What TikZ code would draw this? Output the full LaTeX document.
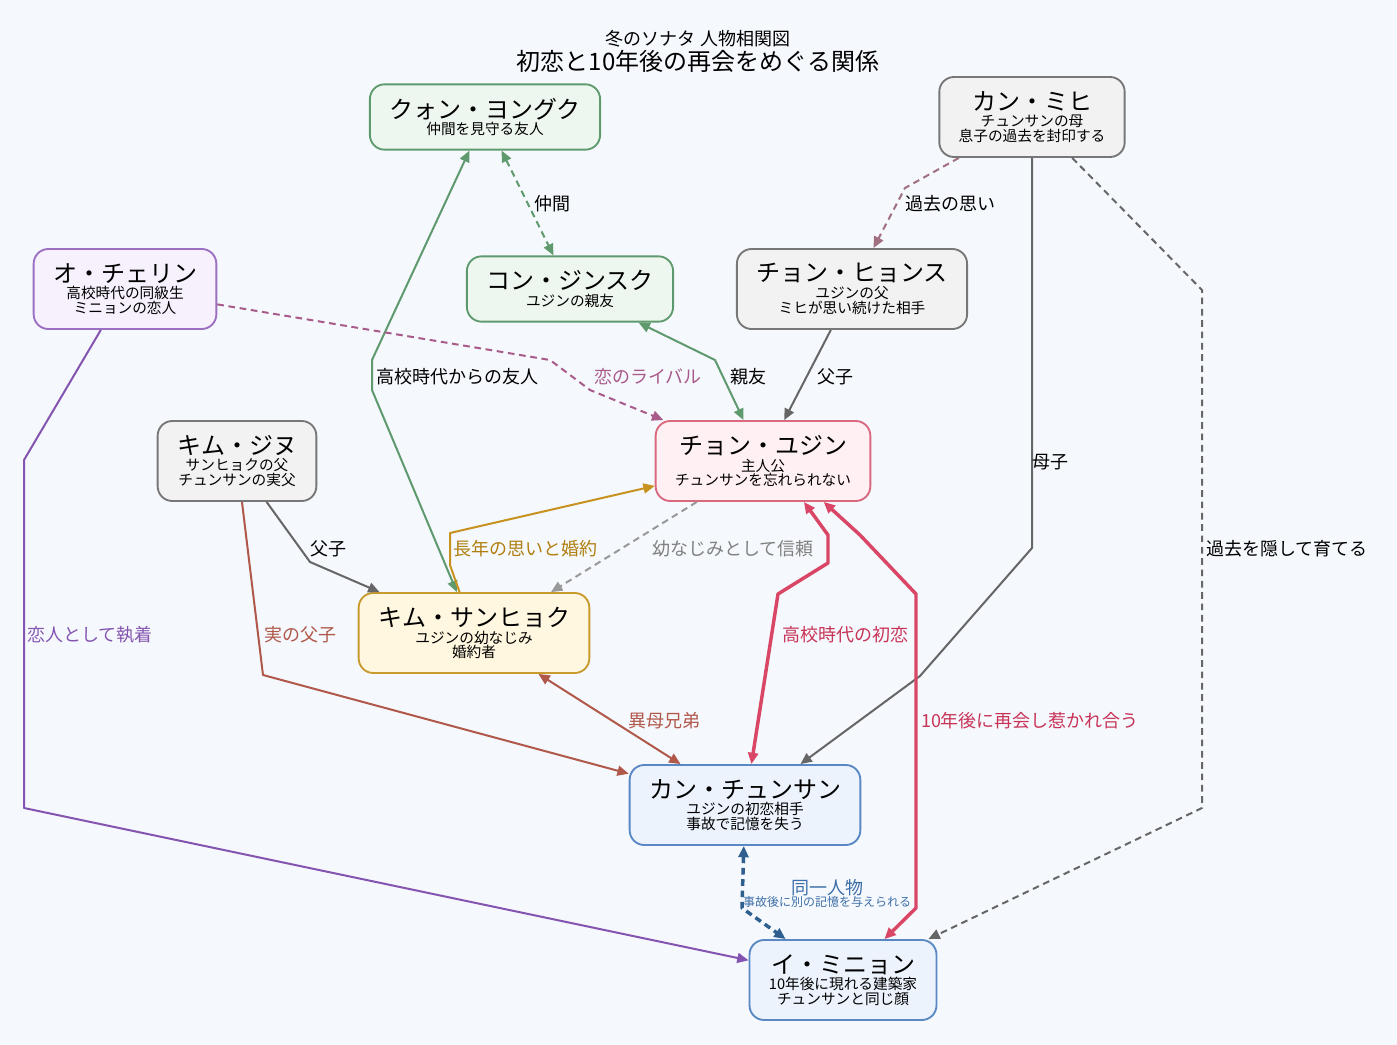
\documentclass[tikz,border=0pt]{standalone}
\usepackage{fontspec}
\setmainfont{Noto Sans CJK JP}
\usetikzlibrary{arrows.meta}

\definecolor{bgcol}{HTML}{F5F8FC}
\definecolor{grnline}{HTML}{5E9A6E}
\definecolor{grnfill}{HTML}{EEF7EF}
\definecolor{gryline}{HTML}{777777}
\definecolor{gryfill}{HTML}{F2F2F2}
\definecolor{gryedge}{HTML}{666666}
\definecolor{prpline}{HTML}{9B70C2}
\definecolor{prpfill}{HTML}{F7F0FD}
\definecolor{prpedge}{HTML}{8455B0}
\definecolor{pnkline}{HTML}{D9697F}
\definecolor{pnkfill}{HTML}{FFF0F3}
\definecolor{gldline}{HTML}{C99A2E}
\definecolor{gldfill}{HTML}{FFF7DF}
\definecolor{gldedge}{HTML}{C8921E}
\definecolor{gldtext}{HTML}{B07F10}
\definecolor{bluline}{HTML}{5A88C4}
\definecolor{blufill}{HTML}{EDF3FD}
\definecolor{bluedge}{HTML}{2E5F8F}
\definecolor{blutext}{HTML}{3D6FA8}
\definecolor{rededge}{HTML}{D94666}
\definecolor{redtext}{HTML}{C83458}
\definecolor{brnedge}{HTML}{B0584A}
\definecolor{mauedge}{HTML}{A07080}
\definecolor{rivedge}{HTML}{A85A8A}

\newcommand{\pname}[1]{{\fontsize{18}{18}\selectfont #1}}

\tikzset{
  person/.style={draw, rounded corners=11pt, line width=1.4pt, align=center,
    inner xsep=14.5pt, inner ysep=3pt, minimum height=49pt,
    font=\fontsize{11}{11}\selectfont},
  tallbox/.style={minimum height=60pt},
  greenbox/.style={draw=grnline, fill=grnfill},
  graybox/.style={draw=gryline, fill=gryfill},
  purplebox/.style={draw=prpline, fill=prpfill},
  pinkbox/.style={draw=pnkline, fill=pnkfill},
  goldbox/.style={draw=gldline, fill=gldfill},
  bluebox/.style={draw=bluline, fill=blufill},
  link/.style={line width=1.5pt, line join=round},
  thicklink/.style={line width=2.6pt, line join=round},
  onearrow/.style={-{Triangle[length=8.5pt,width=7.5pt]}},
  twoarrow/.style={{Triangle[length=8.5pt,width=7.5pt]}-{Triangle[length=8.5pt,width=7.5pt]}},
  dashlink/.style={dash pattern=on 5pt off 3.5pt},
  lbl/.style={font=\fontsize{13.5}{13.5}\selectfont, inner sep=1pt},
}

\begin{document}
\begin{tikzpicture}[x=0.75pt, y=-0.75pt]
\useasboundingbox[fill=bgcol] (0,0) rectangle (1397,1045);

% title
\node (title1) at (698,39) {\fontsize{13.5}{13.5}\selectfont 冬のソナタ 人物相関図};
\node (title2) at (698,61) {\fontsize{18}{18}\selectfont 初恋と10年後の再会をめぐる関係};

% people
\node (kwon)[person, greenbox] at (485,117) {\pname{クォン・ヨングク}\\[1.5pt]仲間を見守る友人};
\node (mihee)[person, tallbox, graybox] at (1032,117) {\pname{カン・ミヒ}\\[1.5pt]チュンサンの母\\息子の過去を封印する};
\node (cherin)[person, tallbox, purplebox] at (125,289) {\pname{オ・チェリン}\\[1.5pt]高校時代の同級生\\ミニョンの恋人};
\node (kong)[person, greenbox] at (570,289) {\pname{コン・ジンスク}\\[1.5pt]ユジンの親友};
\node (hyungsoo)[person, tallbox, graybox] at (852,289) {\pname{チョン・ヒョンス}\\[1.5pt]ユジンの父\\ミヒが思い続けた相手};
\node (jinwoo)[person, tallbox, graybox] at (237,461) {\pname{キム・ジヌ}\\[1.5pt]サンヒョクの父\\チュンサンの実父};
\node (yujin)[person, tallbox, pinkbox] at (763,461) {\pname{チョン・ユジン}\\[1.5pt]主人公\\チュンサンを忘れられない};
\node (sanghyuk)[person, tallbox, goldbox] at (474,633) {\pname{キム・サンヒョク}\\[1.5pt]ユジンの幼なじみ\\婚約者};
\node (joonsang)[person, tallbox, bluebox] at (745,805) {\pname{カン・チュンサン}\\[1.5pt]ユジンの初恋相手\\事故で記憶を失う};
\node (minhyung)[person, tallbox, bluebox] at (843,980) {\pname{イ・ミニョン}\\[1.5pt]10年後に現れる建築家\\チュンサンと同じ顔};

% connectors
\draw[link, twoarrow, dashlink, grnline] (kwon) -- (kong);
\draw[link, twoarrow, grnline] (sanghyuk) -- (372,390) -- (372,360) -- (kwon);
\draw[link, twoarrow, grnline] (kong) -- (715,360) -- (yujin);
\draw[link, onearrow, dashlink, mauedge] (mihee) -- (905,188) -- (hyungsoo);
\draw[link, onearrow, gryedge] (hyungsoo) -- (yujin);
\draw[link, onearrow, dashlink, rivedge] (cherin) -- (550,360) -- (590,390) -- (yujin);
\draw[link, onearrow, gryedge] (mihee) -- (1032,548) -- (920,676) -- (joonsang);
\draw[link, onearrow, dashlink, gryedge] (mihee) -- (1202,290) -- (1202,808) -- (minhyung);
\draw[link, onearrow, prpedge] (cherin) -- (24,460) -- (24,808) -- (minhyung);
\draw[link, onearrow, gryedge] (jinwoo) -- (310,562) -- (sanghyuk);
\draw[link, onearrow, brnedge] (jinwoo) -- (263,675) -- (joonsang);
\draw[link, onearrow, gldedge] (sanghyuk) -- (450,565) -- (450,533) -- (yujin);
\draw[link, onearrow, dashlink, gray!80] (yujin) -- (sanghyuk.28);
\draw[link, twoarrow, brnedge] (sanghyuk) -- (joonsang);
\draw[thicklink, twoarrow, rededge] (yujin.-45) -- (828,535) -- (828,563) -- (778,594) -- (joonsang);
\draw[thicklink, twoarrow, rededge] (yujin.-34) -- (860,535) -- (916,594) -- (916,908) -- (minhyung);
\draw[thicklink, twoarrow, dashlink, bluedge] (joonsang) -- (742,908) -- (minhyung);

% labels
\node (l1)[lbl] at (552,204) {仲間};
\node (l2)[lbl] at (457,377) {高校時代からの友人};
\node (l3)[lbl] at (748,377) {親友};
\node (l4)[lbl] at (950,204) {過去の思い};
\node (l5)[lbl] at (835,377) {父子};
\node (l6)[lbl, text=rivedge] at (648,377) {恋のライバル};
\node (l7)[lbl] at (1050,462) {母子};
\node (l8)[lbl] at (1287,549) {過去を隠して育てる};
\node (l9)[lbl, text=prpedge] at (90,635) {恋人として執着};
\node (l10)[lbl] at (328,549) {父子};
\node (l11)[lbl, text=brnedge] at (300,635) {実の父子};
\node (l12)[lbl, text=gldtext] at (525,549) {長年の思いと婚約};
\node (l13)[lbl, text=gray] at (733,549) {幼なじみとして信頼};
\node (l14)[lbl, text=brnedge] at (664,721) {異母兄弟};
\node (l15)[lbl, text=redtext] at (845,635) {高校時代の初恋};
\node (l16)[lbl, text=redtext] at (1030,721) {10年後に再会し惹かれ合う};
\node (l17)[lbl, text=blutext] at (827,888) {同一人物};
\node (l18)[lbl, text=blutext, font=\fontsize{9}{9}\selectfont] at (827,902) {事故後に別の記憶を与えられる};

\end{tikzpicture}
\end{document}
